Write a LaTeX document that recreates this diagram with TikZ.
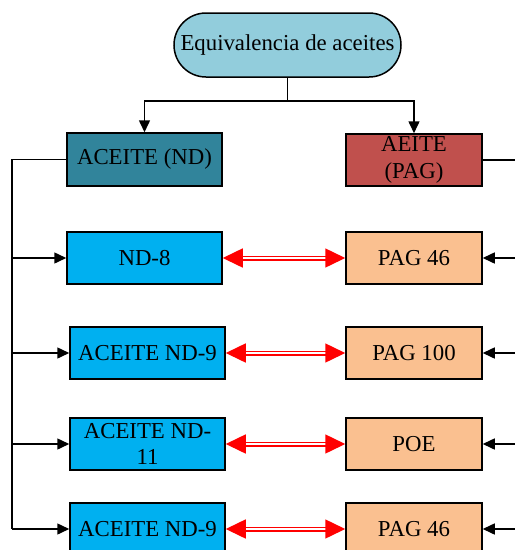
\documentclass[tikz,border=0pt]{standalone}
\usepackage{fontspec}
\setmainfont{Liberation Serif}
\usetikzlibrary{arrows.meta,shapes.misc}

\definecolor{topfill}{HTML}{92CDDC}
\definecolor{ndhead}{HTML}{31849B}
\definecolor{paghead}{HTML}{C0504D}
\definecolor{ndfill}{HTML}{00B0F0}
\definecolor{pagfill}{HTML}{FAC090}

\tikzset{
  x=1pt, y=-1pt,
  every node/.style={font=\fontsize{22.8}{26.5}\selectfont, align=center, inner sep=0pt},
  boxbase/.style={draw=black, line width=1.5pt, rectangle},
  ndbox/.style={boxbase, fill=ndfill, minimum width=155pt, minimum height=52pt},
  pagbox/.style={boxbase, fill=pagfill, minimum width=136pt, minimum height=52pt},
  link/.style={line width=1.5pt, draw=black},
  linkarrow/.style={link, -{Triangle[length=12pt,width=11pt]}},
  equiv/.style={draw=red, line width=1.5pt, double=white, double distance=2pt,
    {Triangle[length=20pt,width=19pt]}-{Triangle[length=20pt,width=19pt]}},
}

\begin{document}
\begin{tikzpicture}
\useasboundingbox (0,0) rectangle (515,550);
\clip (0,0) rectangle (515,550);

% root
\node[boxbase, rounded rectangle, fill=topfill, minimum width=227pt, minimum height=64pt]
  (root) at (287.5,45) {Equivalencia de aceites};

% family headers
\node[ndbox, fill=ndhead, minimum height=53pt] (nd) at (144.5,159.5) {ACEITE (ND)};
\node[pagbox, fill=paghead] (pag) at (414,160) {AEITE\\(PAG)};

% ND oils
\node[ndbox] (nd8)  at (144.5,258) {ND-8};
\node[ndbox] (nd9)  at (147.5,353) {ACEITE ND-9};
\node[ndbox] (nd11) at (147.5,444) {ACEITE ND-\\11};
\node[ndbox] (nd9b) at (147.5,529) {ACEITE ND-9};

% PAG / POE oils
\node[pagbox] (p46)  at (414,258) {PAG 46};
\node[pagbox] (p100) at (414,353) {PAG 100};
\node[pagbox] (poe)  at (414,444) {POE};
\node[pagbox] (p46b) at (414,529) {PAG 46};

% root split
\coordinate (split) at (287.5,101);
\draw[link] (root.south) -- (split);
\draw[linkarrow] (split) -| (nd.north);
\draw[linkarrow] (split) -| (pag.north);

% left trunk
\coordinate (lt) at (12,0);
\draw[link] (nd.west) -| (lt |- nd9b.west);
\foreach \n in {nd8,nd9,nd11,nd9b}
  \draw[linkarrow] (lt |- \n.west) -- (\n.west);

% right trunk
\coordinate (rt) at (522,0);
\draw[link] (pag.east) -| (rt |- p46b.east);
\foreach \n in {p46,p100,poe,p46b}
  \draw[linkarrow] (rt |- \n.east) -- (\n.east);

% equivalences
\draw[equiv] (nd8.east) -- (p46.west);
\draw[equiv] (nd9.east) -- (p100.west);
\draw[equiv] (nd11.east) -- (poe.west);
\draw[equiv] (nd9b.east) -- (p46b.west);
\end{tikzpicture}
\end{document}
